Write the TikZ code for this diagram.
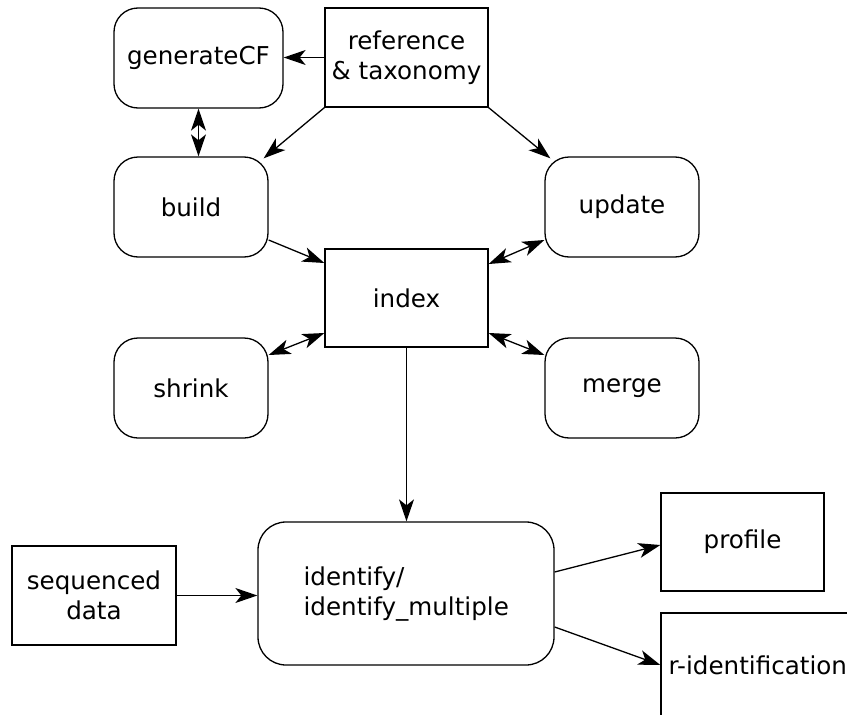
\documentclass[tikz,border=0pt]{standalone}
\usepackage{fontspec}
\setmainfont{DejaVu Sans}
\usetikzlibrary{arrows.meta,calc}
\tikzset{
  base/.style={draw=black, line width=1.3pt, inner sep=0pt, align=center,
    font=\fontsize{24.6}{30}\selectfont},
  rbox/.style={base, rounded corners=24pt},
  sbox/.style={base},
  conn/.style={line width=1.3pt, -{Stealth[length=22pt,width=15pt,inset=6pt]}},
  dconn/.style={line width=1.3pt, {Stealth[length=22pt,width=15pt,inset=6pt]}-{Stealth[length=22pt,width=15pt,inset=6pt]}},
}
\begin{document}
\begin{tikzpicture}[x=1pt,y=-1pt]
\useasboundingbox (0,0) rectangle (847,715);
\clip (0,0) rectangle (847,715);

% upper part: sources and index maintenance
\node[rbox, minimum width=169pt, minimum height=100pt] (gen) at (198.5,58) {generateCF};
\node[sbox, minimum width=163pt, minimum height=99pt] (ref) at (406.5,57.5) {reference\\\& taxonomy};
\node[rbox, minimum width=154pt, minimum height=100pt] (build) at (191,207) {build};
\node[rbox, minimum width=154pt, minimum height=100pt] (update) at (622,207) {update};
\node[sbox, minimum width=163pt, minimum height=98pt] (index) at (406.5,298) {index};
\node[rbox, minimum width=154pt, minimum height=100pt] (shrink) at (191,388) {shrink};
\node[rbox, minimum width=154pt, minimum height=100pt] (merge) at (622,388) {merge};

% lower part: identification and outputs
\node[rbox, rounded corners=28pt, minimum width=296pt, minimum height=143pt] (ident) at (406,593.5) {};
\node[base, draw=none, anchor=west, align=left] (identtxt) at (303,594) {identify/\\identify\_multiple};
\node[sbox, minimum width=164pt, minimum height=99pt] (seq) at (94,595.5) {sequenced\\data};
\node[sbox, minimum width=163pt, minimum height=98pt] (profile) at (742.5,542) {profile};
\node[sbox, minimum width=220pt, minimum height=104pt] (rid) at (771,665) {};
\node[base, draw=none, anchor=west] (ridtxt) at (668,665) {r-identification};

% connectors
\draw[conn] (ref.west) -- (ref.west -| gen.east);
\draw[dconn] (gen.south) -- (gen.south |- build.north);
\draw[conn] (ref.south west) -- ([shift={(-5pt,-2pt)}]build.north east);
\draw[conn] (ref.south east) -- ([shift={(6pt,-2pt)}]update.north west);
\draw[conn] ([yshift=-33pt]build.east) -- ([yshift=35pt]index.west);
\draw[dconn] ([yshift=34pt]index.east) -- ([yshift=-33pt]update.west);
\draw[dconn] ([yshift=-35pt]index.west) -- ([yshift=33pt]shrink.east);
\draw[dconn] ([yshift=-35pt]index.east) -- ([yshift=33pt]merge.west);
\draw[conn] (index.south) -- (index.south |- ident.north);
\draw[conn] (seq.east) -- (seq.east -| ident.west);
\draw[conn] ([yshift=21.5pt]ident.east) -- ([yshift=-3pt]profile.west);
\draw[conn] ([yshift=-33.5pt]ident.east) -- (rid.west);
\end{tikzpicture}
\end{document}
